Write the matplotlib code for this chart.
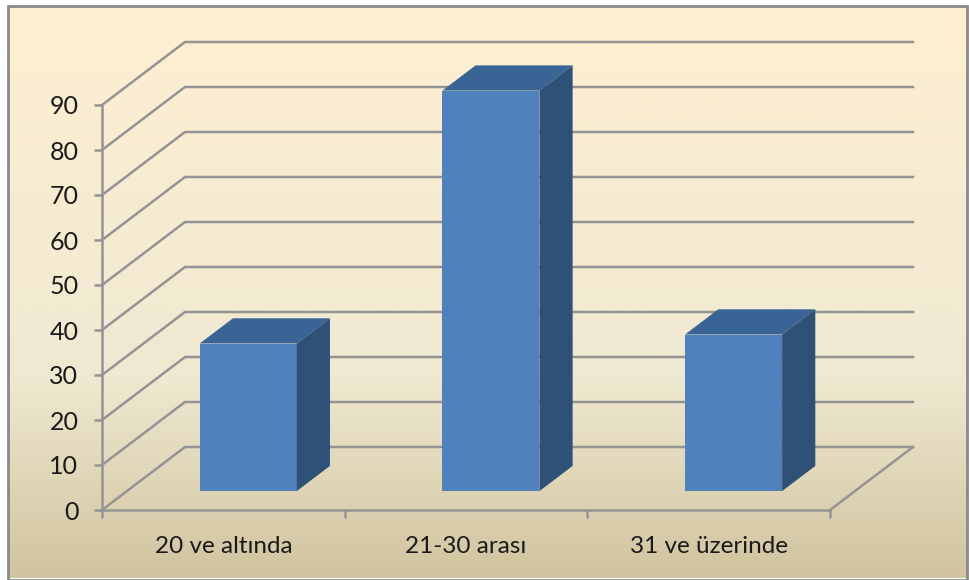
import matplotlib
matplotlib.use('Agg')
import matplotlib.pyplot as plt
import numpy as np
from matplotlib.colors import LinearSegmentedColormap
from matplotlib.patches import Rectangle

categories = ['20 ve altında', '21-30 arası', '31 ve üzerinde']
values = [32.8, 89, 34.8]
y_ticks = [0, 10, 20, 30, 40, 50, 60, 70, 80, 90]

W, H = 969, 580
plt.rcParams['font.family'] = ['Lato', 'DejaVu Sans']
fig = plt.figure(figsize=(W / 100, H / 100), dpi=100, facecolor='white')

# background panel with the parchment gradient
bg = fig.add_axes([0, 0, 1, 1], zorder=0)
bg.set_xlim(0, W)
bg.set_ylim(H, 0)
bg.axis('off')
cmap = LinearSegmentedColormap.from_list(
    'parchment', [(0, '#FFEFD1'), (0.65, '#EFE9D1'), (1, '#D1C39F')])
bg.imshow(np.linspace(0, 1, 256).reshape(-1, 1), cmap=cmap, aspect='auto',
          extent=[9, 967, 578, 6], interpolation='bilinear')
bg.add_patch(Rectangle((8.5, 5.5), 959, 574, fill=False, ec='#8a8a8a', lw=2))

# front plane of the chart, pixel box
left, right, top, bottom = 102, 830, 105, 510
ax = fig.add_axes([left / W, 1 - bottom / H, (right - left) / W, (bottom - top) / H], zorder=1)
ax.patch.set_alpha(0)
ax.set_xlim(-0.5, 2.5)
ax.set_ylim(0, 90)

# how far one full step of depth moves a point, in data units
depth_x = 83 / ((right - left) / 3)
depth_y = 63 / ((bottom - top) / 90)


def proj(x, y, d):
    return x + d * depth_x, y + d * depth_y


grid_col = '#949494'
for v in y_ticks:
    x0, y0 = proj(-0.5, v, 0)
    x1, y1 = proj(-0.5, v, 1)
    x2, y2 = proj(2.5, v, 1)
    ax.plot([x0, x1, x2], [y0, y1, y2], color=grid_col, lw=1.8, clip_on=False, zorder=1)
x0, y0 = proj(2.5, 0, 0)
x1, y1 = proj(2.5, 0, 1)
ax.plot([x0, x1], [y0, y1], color=grid_col, lw=1.8, clip_on=False, zorder=1)

# 3d bars
bar_w = 0.40
d0, d1 = 0.3, 0.7
for i, v in enumerate(values):
    xl, xr = i - bar_w / 2, i + bar_w / 2
    fx, fb = proj(xl, 0, d0)
    ax.bar(fx, v, width=bar_w, bottom=fb, align='edge', color='#4F81BD',
           lw=0, clip_on=False, zorder=3)
    a = proj(xl, v, d0)
    b = proj(xr, v, d0)
    c = proj(xr, v, d1)
    e = proj(xl, v, d1)
    ax.fill(*zip(a, b, c, e), color='#3A6496', lw=0, clip_on=False, zorder=3)
    a = proj(xr, 0, d0)
    e = proj(xr, 0, d1)
    ax.fill(*zip(a, b, c, e), color='#2F5178', lw=0, clip_on=False, zorder=3)

for s in ['top', 'right']:
    ax.spines[s].set_visible(False)
for s in ['left', 'bottom']:
    ax.spines[s].set_color(grid_col)
    ax.spines[s].set_linewidth(1.8)

ax.set_yticks(y_ticks)
ax.set_xticks([-0.5, 0.5, 1.5, 2.5])
ax.set_xticklabels([])
ax.set_xticks([0, 1, 2], categories, minor=True)
ax.tick_params(axis='both', which='major', length=6, width=1.8, color=grid_col,
               labelsize=18, labelcolor='#1a1a1a')
ax.tick_params(axis='y', pad=11)
ax.tick_params(axis='x', which='minor', length=0, pad=19, labelsize=17.5, labelcolor='#1a1a1a')

fig.savefig('out.png', dpi=100)
